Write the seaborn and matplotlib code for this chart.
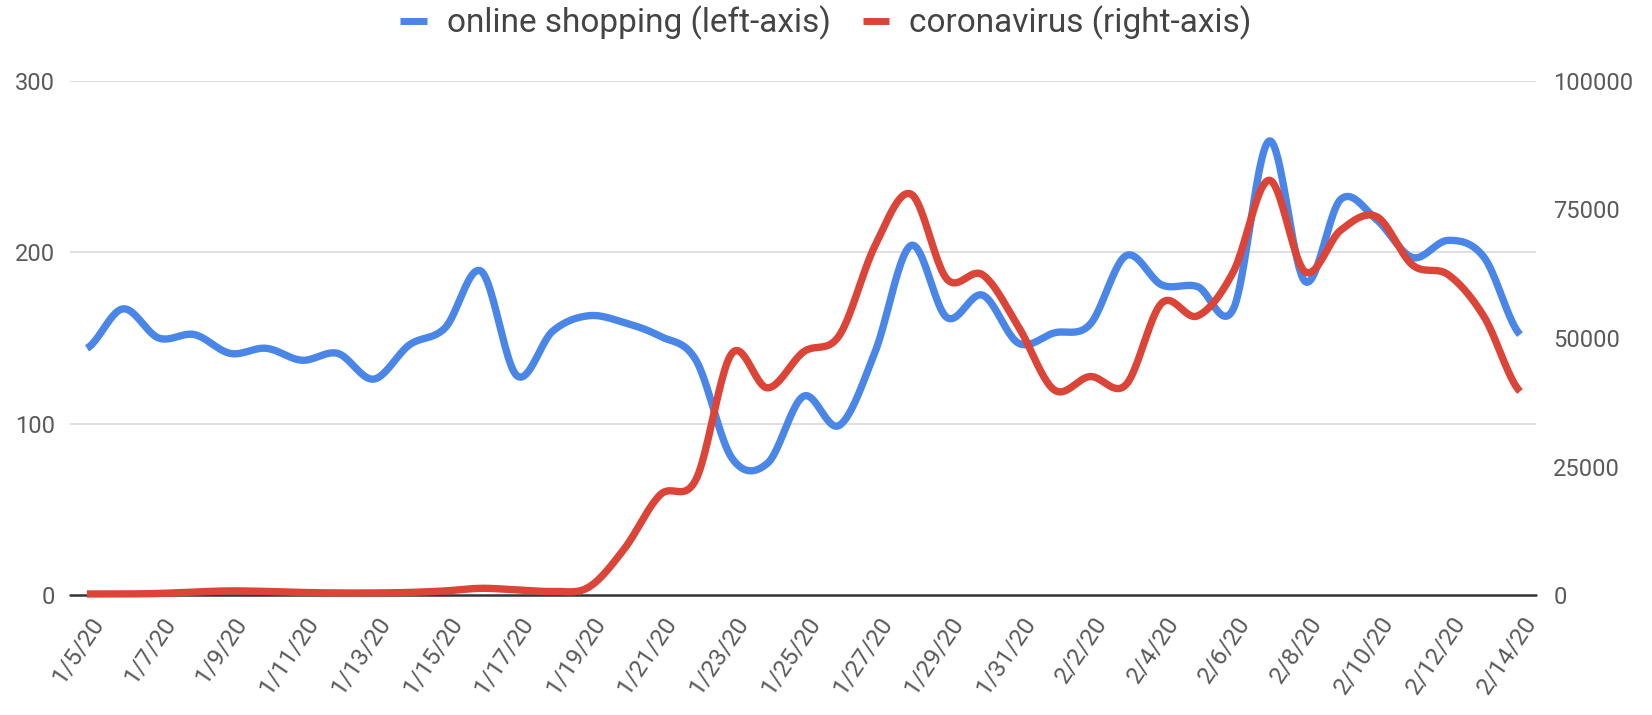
import numpy as np
import pandas as pd
import matplotlib
matplotlib.use("Agg")
import matplotlib.pyplot as plt
import seaborn as sns
from matplotlib.transforms import ScaledTranslation
from matplotlib.lines import Line2D

# ---------------- data ----------------
dates = ["1/5/20", "1/6/20", "1/7/20", "1/8/20", "1/9/20", "1/10/20", "1/11/20",
         "1/12/20", "1/13/20", "1/14/20", "1/15/20", "1/16/20", "1/17/20", "1/18/20",
         "1/19/20", "1/20/20", "1/21/20", "1/22/20", "1/23/20", "1/24/20", "1/25/20",
         "1/26/20", "1/27/20", "1/28/20", "1/29/20", "1/30/20", "1/31/20", "2/1/20",
         "2/2/20", "2/3/20", "2/4/20", "2/5/20", "2/6/20", "2/7/20", "2/8/20",
         "2/9/20", "2/10/20", "2/11/20", "2/12/20", "2/13/20", "2/14/20"]

online_shopping = [144, 167, 150, 152, 141, 144, 137, 141, 126, 146, 156, 189, 128, 154,
                   163, 159, 151, 137, 80, 77, 116, 99, 142, 204, 162, 175, 147, 153,
                   158, 198, 181, 180, 167, 265, 183, 231, 219, 197, 207, 197, 152]

coronavirus = [200, 200, 300, 600, 800, 700, 500, 400, 400, 500, 800, 1300, 1000, 700,
               1500, 9000, 19500, 22500, 47000, 40300, 47300, 50500, 68000, 78000, 61500,
               62300, 52200, 39900, 42500, 40900, 56800, 54300, 62900, 80700, 62900,
               71000, 73600, 64200, 62300, 54100, 39600]

left_ticks = [0, 100, 200, 300]
right_ticks = [0, 25000, 50000, 75000, 100000]

label_shop = "online shopping (left-axis)"
label_cov = "coronavirus (right-axis)"

BLUE = "#4a86e8"
RED = "#db4437"


def smooth_curve(values, n=24):
    """Catmull-Rom style smooth rendering through every data point."""
    y = np.asarray(values, dtype=float)
    p = np.concatenate([[y[0]], y, [y[-1]]])
    xs, ys = [], []
    t = np.linspace(0, 1, n, endpoint=False)
    h00 = 2 * t**3 - 3 * t**2 + 1
    h10 = t**3 - 2 * t**2 + t
    h01 = -2 * t**3 + 3 * t**2
    h11 = t**3 - t**2
    for i in range(len(y) - 1):
        p0, p1, p2, p3 = p[i], p[i + 1], p[i + 2], p[i + 3]
        m1 = (p2 - p0) / 2
        m2 = (p3 - p1) / 2
        xs.append(i + t)
        ys.append(h00 * p1 + h10 * m1 + h01 * p2 + h11 * m2)
    xs.append([len(y) - 1])
    ys.append([y[-1]])
    return np.concatenate(xs), np.concatenate(ys)


sns.set_theme(style="white")
plt.rcParams["font.family"] = ["Roboto", "DejaVu Sans"]

W, H = 1652, 715
fig = plt.figure(figsize=(W / 100, H / 100), dpi=100)
ax = fig.add_axes([70 / W, 1 - 595 / H, 1466 / W, 514 / H])
ax2 = ax.twinx()

xs, ys = smooth_curve(online_shopping)
df_shop = pd.DataFrame({"x": xs, "y": ys})
xs2, ys2 = smooth_curve(coronavirus)
df_cov = pd.DataFrame({"x": xs2, "y": ys2})

sns.lineplot(data=df_shop, x="x", y="y", ax=ax, color=BLUE, linewidth=5.3,
             sort=False, estimator=None, zorder=3)
sns.lineplot(data=df_cov, x="x", y="y", ax=ax2, color=RED, linewidth=5.3,
             sort=False, estimator=None, zorder=3)
for ln in ax.get_lines() + ax2.get_lines():
    ln.set_clip_on(False)
    ln.set_solid_joinstyle("round")
    ln.set_solid_capstyle("butt")

xmin, xmax = -0.4745, 40.447
ax.set_xlim(xmin, xmax)
ax.set_ylim(0, 300)
ax2.set_ylim(0, 100000)

# gridlines (left axis) and baseline
for v in left_ticks[1:]:
    ax.axhline(v, color="#dcdcdc", linewidth=1.3, zorder=0)
ax.axhline(0, color="#333333", linewidth=1.8, zorder=1, clip_on=False)

for a in (ax, ax2):
    for s in a.spines.values():
        s.set_visible(False)
    a.set_ylabel("")
    a.grid(False)
ax.set_xlabel("")

ax.set_yticks(left_ticks)
ax.set_yticklabels([str(v) for v in left_ticks])
ax2.set_yticks(right_ticks)
ax2.set_yticklabels([str(v) for v in right_ticks])
ax.tick_params(axis="y", length=0, pad=11, labelsize=17, labelcolor="#5a5a5a")
ax2.tick_params(axis="y", length=0, pad=12.5, labelsize=17, labelcolor="#5a5a5a")

tick_pos = list(range(0, len(dates), 2))
ax.set_xticks(tick_pos)
ax.set_xticklabels([dates[i] for i in tick_pos], rotation=56, ha="right",
                   va="center", rotation_mode="anchor")
ax.tick_params(axis="x", length=0, pad=17, labelsize=17.5, labelcolor="#5a5a5a")
ax.set_xlim(xmin, xmax)
offset = ScaledTranslation(12 / 100, 0, fig.dpi_scale_trans)
for lab in ax.get_xticklabels():
    lab.set_transform(lab.get_transform() + offset)

handles = [Line2D([0], [0], color=BLUE, linewidth=5, solid_capstyle="butt"),
           Line2D([0], [0], color=RED, linewidth=5, solid_capstyle="butt")]
fig.legend(handles, [label_shop, label_cov], loc="center",
           bbox_to_anchor=(0.5, 1 - 23 / H), ncol=2, frameon=False, fontsize=24,
           handlelength=0.8, handletextpad=0.6, columnspacing=0.95,
           labelcolor="#444444")

fig.savefig("out.png", dpi=100, facecolor="white")
